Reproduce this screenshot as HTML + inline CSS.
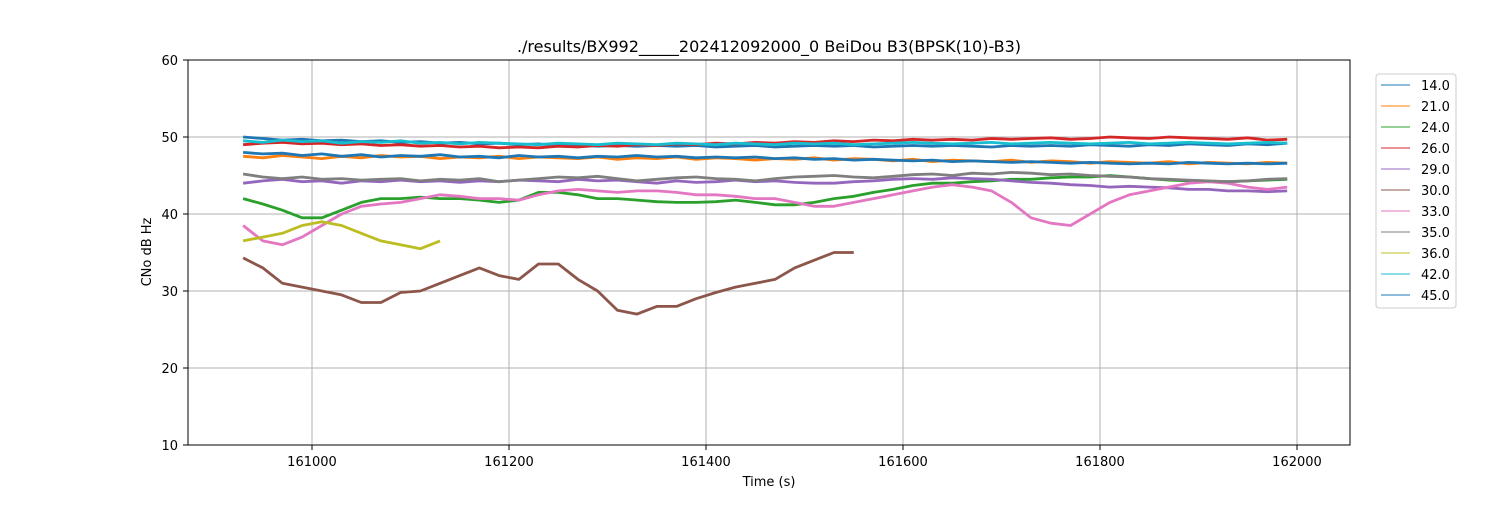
<!DOCTYPE html>
<html><head><meta charset="utf-8"><style>
body{margin:0;background:#fff;}
svg text{font-family:"DejaVu Sans","Liberation Sans",sans-serif;}
</style></head><body>
<svg id="chart" width="1500" height="500" xmlns="http://www.w3.org/2000/svg">
<rect width="1500" height="500" fill="#fff"/>
<g id="grid"></g>
<g id="series"></g>
<rect x="188" y="60" width="1162" height="385" fill="none" stroke="#000" stroke-width="1"/>
<g id="axes"></g>
<text x="769" y="52" text-anchor="middle" font-size="16">./results/BX992_____202412092000_0 BeiDou B3(BPSK(10)-B3)</text>
<text x="769" y="486" text-anchor="middle" font-size="13">Time (s)</text>
<text x="151" y="252" text-anchor="middle" font-size="13" transform="rotate(-90 151 252)">CNo dB Hz</text>
<g id="legend"></g>
</svg>
<script>
const xTicks=[161000,161200,161400,161600,161800,162000];
const yTicks=[10,20,30,40,50,60];
const tStart=160930, tStep=20;
const labels=["14.0","21.0","24.0","26.0","29.0","30.0","33.0","35.0","36.0","42.0","45.0"];
const colors=["#1f77b4","#ff7f0e","#2ca02c","#d62728","#9467bd","#8c564b","#e377c2","#7f7f7f","#bcbd22","#17becf","#1f77b4"];
const s14=[50,49.8,49.6,49.7,49.5,49.6,49.4,49.5,49.3,49.4,49.2,49.3,49.1,49.2,49.0,49.1,48.9,49.0,48.8,48.9,48.8,48.9,48.8,48.9,48.7,48.8,48.9,48.7,48.8,48.9,48.8,48.9,48.7,48.8,48.9,48.8,48.9,48.8,48.7,48.9,48.8,48.9,48.8,49.0,48.9,48.8,49.0,48.9,49.1,49.0,48.9,49.1,49.0,49.2];
const s21=[47.5,47.3,47.6,47.4,47.2,47.5,47.3,47.6,47.4,47.5,47.2,47.4,47.3,47.5,47.2,47.4,47.3,47.2,47.4,47.1,47.3,47.2,47.4,47.1,47.3,47.2,47.0,47.2,47.1,47.3,47.0,47.2,47.1,46.9,47.1,46.8,47.0,46.9,46.8,47.0,46.7,46.9,46.8,46.6,46.8,46.7,46.6,46.8,46.5,46.7,46.6,46.5,46.7,46.6];
const s24=[42,41.3,40.5,39.5,39.5,40.5,41.5,42,42,42.2,42,42,41.8,41.5,41.8,42.8,42.8,42.5,42,42,41.8,41.6,41.5,41.5,41.6,41.8,41.5,41.2,41.2,41.5,42,42.3,42.8,43.2,43.7,44,44,44.2,44.3,44.5,44.5,44.7,44.8,44.8,45,44.8,44.6,44.4,44.3,44.2,44.2,44.3,44.4,44.5];
const s26=[49,49.2,49.3,49.1,49.2,49.0,49.1,48.9,49.0,48.8,48.9,48.7,48.8,48.6,48.7,48.6,48.8,48.7,48.9,48.8,49.0,48.9,49.1,49.0,49.2,49.1,49.3,49.2,49.4,49.3,49.5,49.4,49.6,49.5,49.7,49.6,49.7,49.6,49.8,49.7,49.8,49.9,49.7,49.8,50.0,49.9,49.8,50.0,49.9,49.8,49.7,49.9,49.6,49.7];
const s29=[44,44.3,44.5,44.2,44.3,44,44.3,44.2,44.4,44.2,44.3,44.1,44.3,44.2,44.4,44.3,44.2,44.5,44.3,44.4,44.2,44,44.3,44.1,44.2,44.4,44.2,44.3,44.1,44,44,44.2,44.3,44.5,44.6,44.5,44.7,44.6,44.5,44.3,44.1,44,43.8,43.7,43.5,43.6,43.5,43.4,43.2,43.2,43,43,42.9,43];
const s30=[34.3,33,31,30.5,30,29.5,28.5,28.5,29.8,30,31,32,33,32,31.5,33.5,33.5,31.5,30,27.5,27,28,28,29,29.8,30.5,31,31.5,33,34,35,35];
const s33=[38.5,36.5,36,37,38.5,40,41,41.3,41.5,42,42.5,42.3,42,42,41.8,42.5,43,43.2,43,42.8,43,43,42.8,42.5,42.5,42.3,42,42,41.5,41,41,41.5,42,42.5,43,43.5,43.8,43.5,43,41.5,39.5,38.8,38.5,40,41.5,42.5,43,43.5,44,44.2,44,43.5,43.2,43.5];
const s35=[45.2,44.8,44.6,44.8,44.5,44.6,44.4,44.5,44.6,44.3,44.5,44.4,44.6,44.2,44.4,44.6,44.8,44.7,44.9,44.6,44.3,44.5,44.7,44.8,44.6,44.5,44.3,44.6,44.8,44.9,45,44.8,44.7,44.9,45.1,45.2,45,45.3,45.2,45.4,45.3,45.1,45.2,45.0,44.9,44.8,44.6,44.5,44.4,44.3,44.2,44.3,44.5,44.6];
const s36=[36.5,37,37.5,38.5,39,38.5,37.5,36.5,36,35.5,36.5];
const s42=[49.5,49.3,49.6,49.4,49.5,49.2,49.4,49.3,49.5,49.2,49.3,49.1,49.3,49.2,49.1,49.0,49.2,49.1,49.0,49.2,49.1,49.0,49.2,49.1,49.0,49.2,49.1,49.0,49.2,49.1,49.2,49.0,49.1,49.2,49.3,49.2,49.1,49.2,49.3,49.1,49.2,49.3,49.2,49.1,49.2,49.3,49.1,49.2,49.3,49.2,49.1,49.2,49.3,49.2];
const s45=[48,47.8,47.9,47.6,47.8,47.5,47.7,47.4,47.6,47.5,47.7,47.4,47.5,47.3,47.6,47.4,47.5,47.3,47.5,47.4,47.6,47.4,47.5,47.3,47.4,47.3,47.4,47.2,47.3,47.1,47.2,47.0,47.1,47.0,46.9,47.0,46.8,46.9,46.8,46.7,46.8,46.7,46.6,46.7,46.6,46.5,46.6,46.5,46.7,46.6,46.5,46.6,46.5,46.6];
const seriesList=[s14,s21,s24,s26,s29,s30,s33,s35,s36,s42,s45];
const NS="http://www.w3.org/2000/svg";
const X=t=>312+(t-161000)*0.985;
const Y=v=>445-(v-10)*7.7;
const grid=document.getElementById('grid'),axes=document.getElementById('axes');
function mk(tag,attrs,parent){const e=document.createElementNS(NS,tag);for(const k in attrs)e.setAttribute(k,attrs[k]);parent.appendChild(e);return e;}
xTicks.forEach(t=>{const x=X(t);
 const g=mk('line',{x1:x,x2:x,y1:60,y2:445,stroke:'#b0b0b0','stroke-width':1},grid);
 
 
 mk('line',{x1:x,x2:x,y1:445,y2:450,stroke:'#000'},axes);
 const tx=mk('text',{x:x,y:466,'text-anchor':'middle','font-size':13},axes);tx.textContent=t;
 
 
});
yTicks.forEach(v=>{const y=Y(v);
 const g=mk('line',{x1:188,x2:1350,y1:y,y2:y,stroke:'#b0b0b0','stroke-width':1},grid);
 
 
 mk('line',{x1:183,x2:188,y1:y,y2:y,stroke:'#000'},axes);
 const tx=mk('text',{x:178,y:y+5,'text-anchor':'end','font-size':13},axes);tx.textContent=v;
 
 
});
const sg=document.getElementById('series');
seriesList.forEach((arr,i)=>{
 const pts=arr.map((v,k)=>X(tStart+k*tStep).toFixed(1)+','+Y(v).toFixed(1)).join(' ');
 const p=mk('polyline',{points:pts,fill:'none',stroke:colors[i],'stroke-width':2.8,'stroke-linejoin':'round'},sg);
 
 
});
const lg=document.getElementById('legend');
mk('rect',{x:1376,y:74,width:80,height:234,rx:3,fill:'#fff',stroke:'#ccc'},lg);
labels.forEach((l,i)=>{const y=85+i*21;
 const ln=mk('line',{x1:1381,x2:1410,y1:y,y2:y,stroke:colors[i],'stroke-width':1},lg);
 
 
 const tx=mk('text',{x:1421,y:y+5,'font-size':13},lg);tx.textContent=l;
 
 
});
</script>
</body></html>
